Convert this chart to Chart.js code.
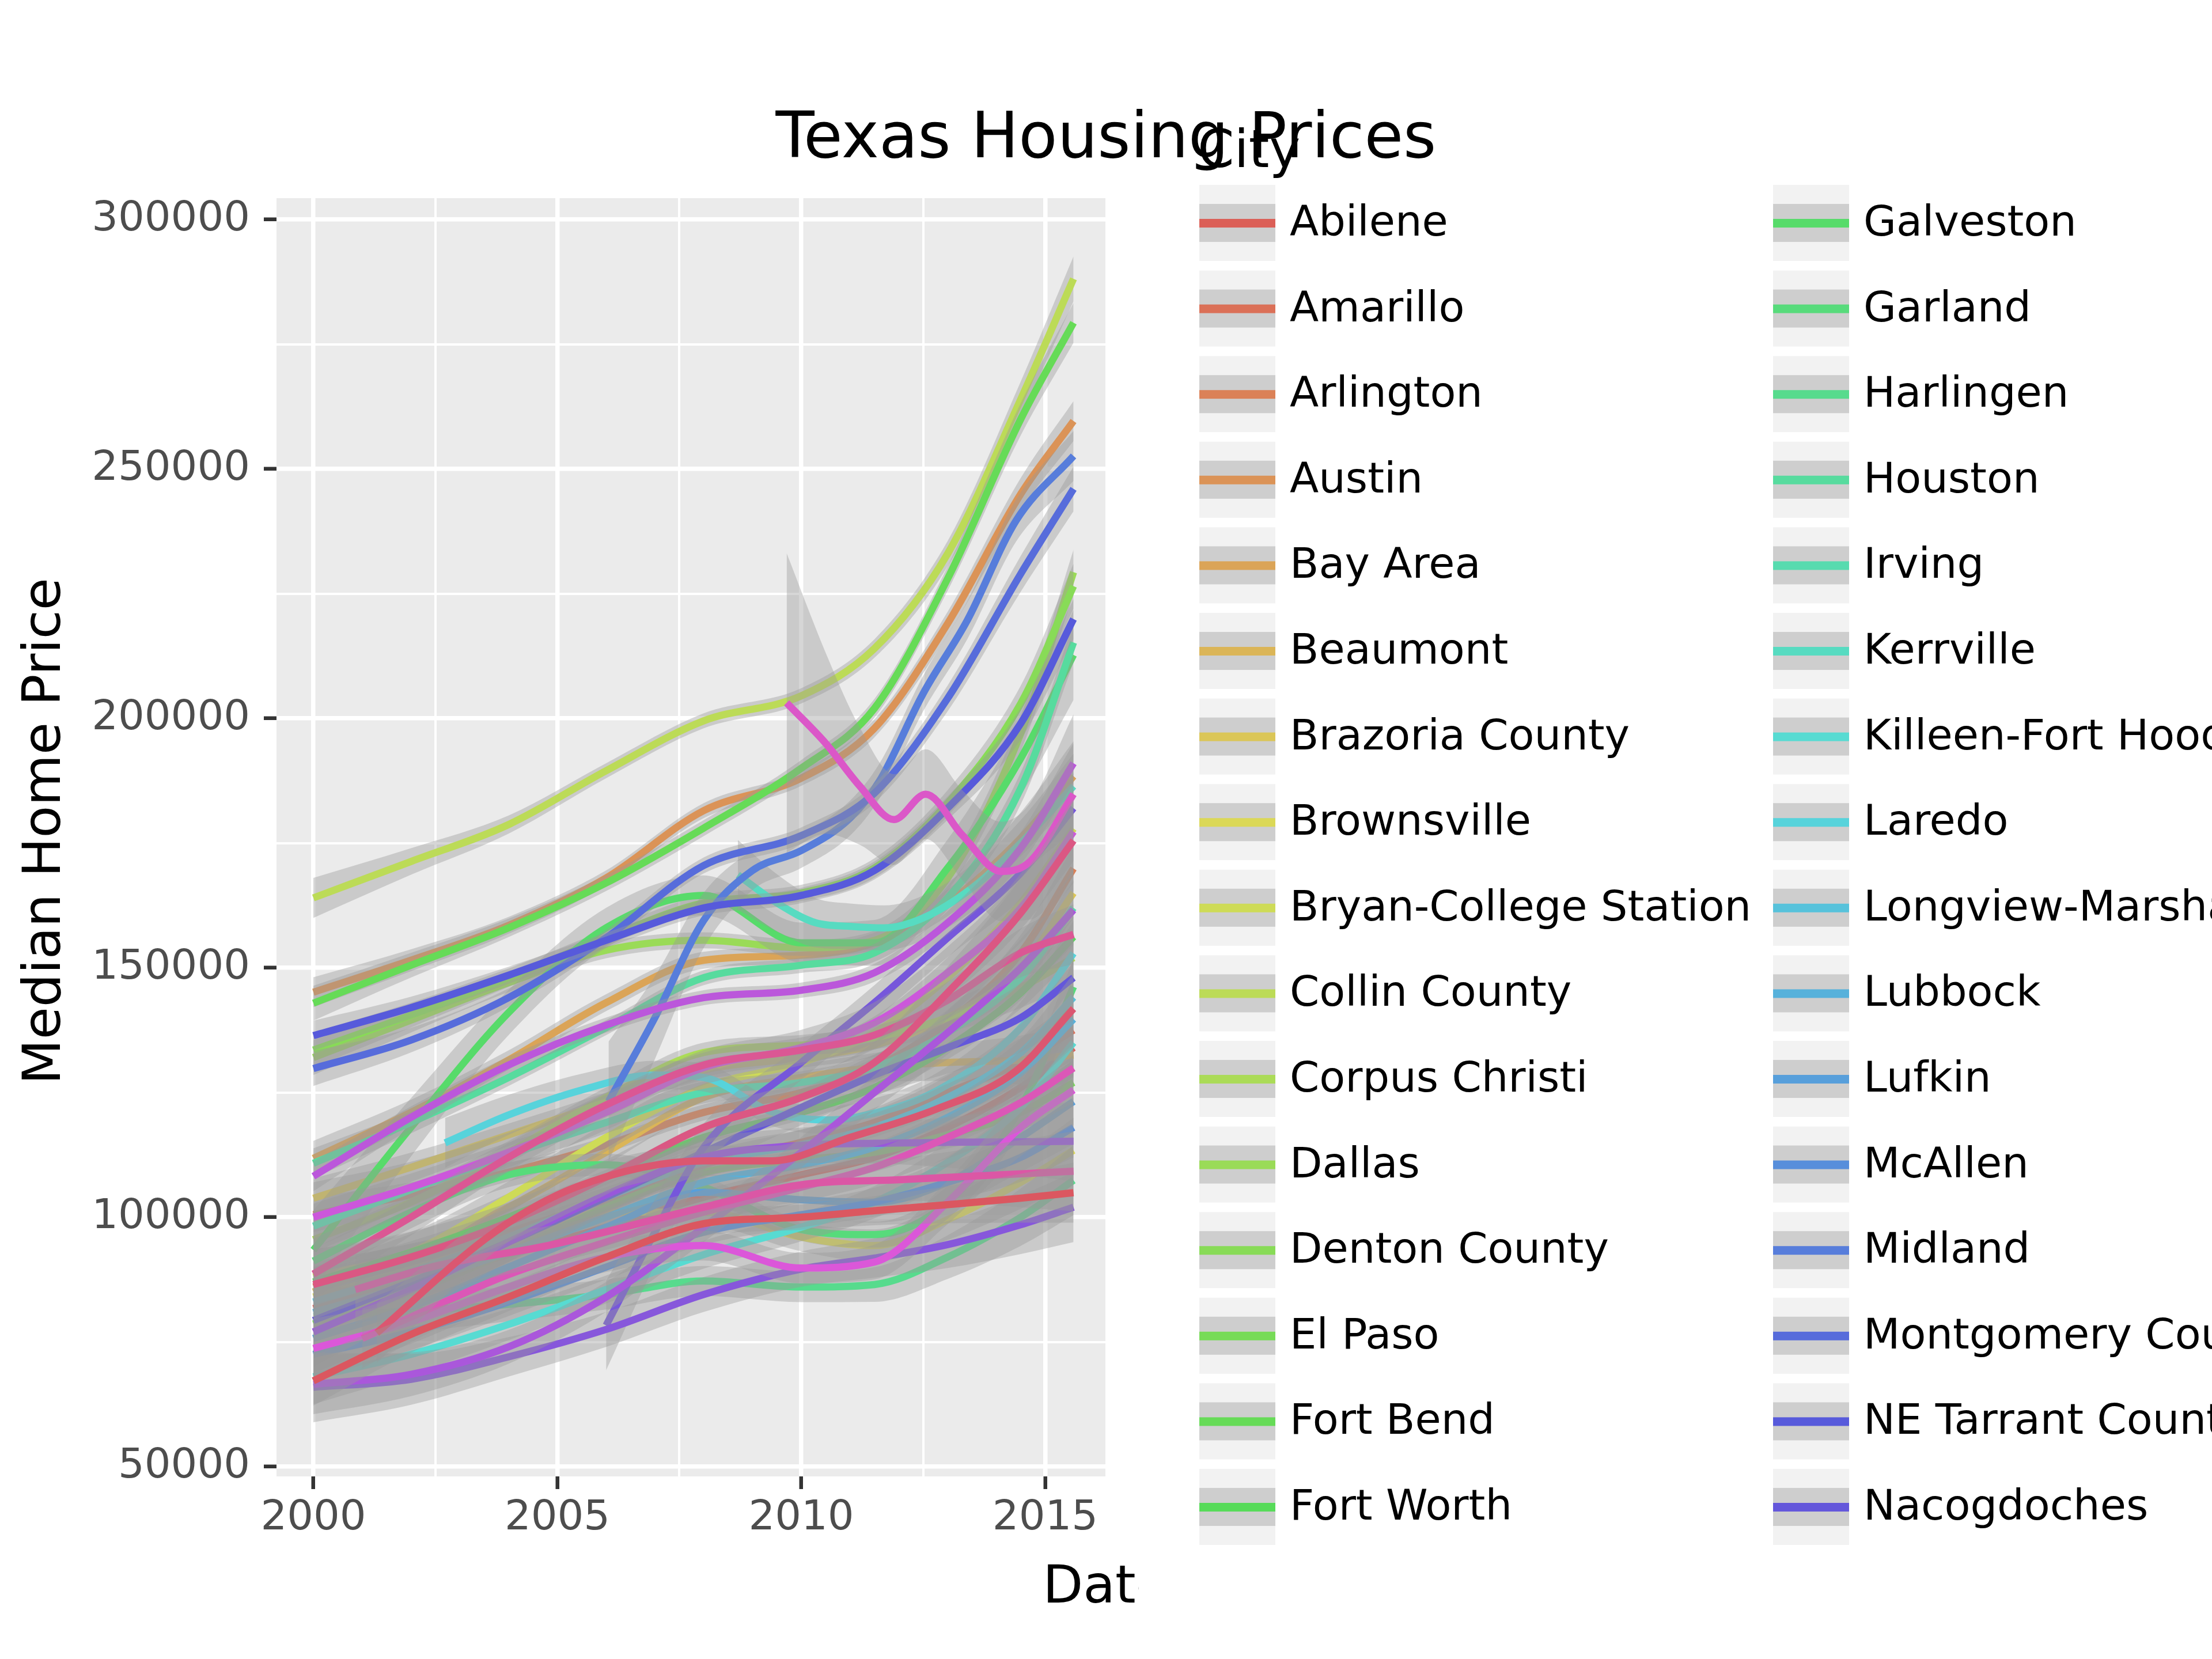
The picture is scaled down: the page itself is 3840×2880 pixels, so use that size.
<!DOCTYPE html>
<html><head><meta charset="utf-8">
<script src="https://cdn.jsdelivr.net/npm/chart.js@4.4.1/dist/chart.umd.min.js"></script>
<style>html,body{margin:0;padding:0;background:#fff;}</style>
</head><body>
<canvas id="c" width="3840" height="2880" style="width:3840px;height:2880px;display:block"></canvas>
<script>
// ---------------- DATA ----------------
const chartTitle = "Texas Housing Prices";
const xTitle = "Date";
const yTitle = "Median Home Price";
const legendTitle = "City";
const xTickValues = [2000, 2002.5, 2005, 2007.5, 2010, 2012.5, 2015];
const yTickValues = [50000, 75000, 100000, 125000, 150000, 175000, 200000, 225000, 250000, 275000, 300000];

const cities = ["Abilene","Amarillo","Arlington","Austin","Bay Area","Beaumont","Brazoria County","Brownsville","Bryan-College Station","Collin County","Corpus Christi","Dallas","Denton County","El Paso","Fort Bend","Fort Worth","Galveston","Garland","Harlingen","Houston","Irving","Kerrville","Killeen-Fort Hood","Laredo","Longview-Marshall","Lubbock","Lufkin","McAllen","Midland","Montgomery County","NE Tarrant County","Nacogdoches","Odessa","Paris","Port Arthur","San Angelo","San Antonio","San Marcos","Sherman-Denison","South Padre Island","Temple-Belton","Texarkana","Tyler","Victoria","Waco","Wichita Falls"];

const baseYears = [2000, 2002, 2004, 2006, 2008, 2010, 2011.5, 2013, 2014.5, 2015.58];

const kerrvilleYears = [2008.7, 2009.5, 2010.3, 2011, 2011.7, 2012.5, 2013.5, 2014.5, 2015.58];
const laredoYears = [2002.7, 2004, 2005.5, 2007, 2008, 2009.4, 2010.5, 2011.1, 2012.75, 2014.5, 2015.58];
const midlandYears = [2006.05, 2007, 2008, 2009, 2010, 2011, 2011.6, 2012.5, 2013.4, 2014.4, 2015.58];
const odessaYears = [2006, 2007, 2008, 2010, 2011.5, 2013, 2014.5, 2015.58];
const southPadreYears = [2009.7, 2010.5, 2011.2, 2011.9, 2012.55, 2013.3, 2014.1, 2014.7, 2015.58];
const templeYears = [2001, 2002, 2004, 2006, 2008, 2010, 2011.5, 2013, 2014.5, 2015.58];
const texarkanaYears = [2000.86, 2002.5, 2004.8, 2008, 2010, 2012, 2015.58];
const wacoYears = [2001.3, 2003.7, 2005.4, 2008, 2009.4, 2011, 2012.75, 2014.4, 2015.58];
const customYears = {
  "Kerrville": kerrvilleYears, "Laredo": laredoYears, "Midland": midlandYears,
  "Odessa": odessaYears, "South Padre Island": southPadreYears,
  "Temple-Belton": templeYears, "Texarkana": texarkanaYears, "Waco": wacoYears
};

// smoothed median price per city (one row per city, aligned with its years)
const prices = [
  [81700, 87000, 92500, 98000, 104000, 108500, 112000, 118000, 126000, 134000],
  [86000, 91000, 97000, 103500, 110500, 115000, 119000, 125000, 131000, 137500],
  [100500, 104500, 109000, 114500, 121000, 125000, 130000, 139000, 153000, 169900],
  [145100, 151500, 158500, 168000, 181500, 188000, 198000, 219000, 245000, 259600],
  [111800, 121000, 131500, 143000, 151500, 152500, 155000, 163000, 176000, 188400],
  [85000, 93000, 102000, 113000, 124000, 128000, 130000, 131000, 131500, 132500],
  [103800, 110000, 116500, 123000, 129500, 132000, 134500, 140000, 150000, 165000],
  [84000, 89500, 95500, 101000, 101000, 96000, 94300, 99500, 107000, 113400],
  [88000, 93000, 104000, 116000, 126000, 131000, 137000, 148000, 163000, 177900],
  [164000, 171300, 178700, 189500, 199500, 204500, 214000, 233000, 264000, 288100],
  [95500, 103000, 113000, 124000, 133000, 134500, 136000, 140000, 146000, 152000],
  [132000, 139500, 147000, 153500, 155500, 154000, 155500, 168000, 197000, 229300],
  [133500, 140500, 148000, 156000, 163000, 165000, 170000, 183000, 203000, 226500],
  [78600, 85000, 93000, 102000, 109000, 111500, 113000, 116500, 121000, 127000],
  [142900, 150500, 158000, 167000, 178000, 190000, 202000, 228000, 260000, 279300],
  [87000, 93000, 100000, 108000, 116000, 121000, 126000, 134000, 145000, 156200],
  [93400, 118000, 141000, 158000, 164500, 155000, 155000, 170000, 192000, 212700],
  [91200, 101000, 108500, 110500, 106000, 97500, 96500, 103000, 122000, 146200],
  [80100, 81200, 82500, 84500, 87200, 86000, 86500, 92000, 100000, 107400],
  [110800, 119000, 128000, 138000, 148000, 150500, 153000, 164000, 186000, 215200],
  [98200, 105500, 112500, 119000, 125000, 127000, 130000, 137000, 148000, 162000],
  [168600, 163000, 159000, 158300, 158000, 160000, 166000, 175000, 186400],
  [68000, 72500, 78500, 85500, 92500, 98000, 103000, 111000, 122000, 135000],
  [114900, 120500, 125500, 128500, 128000, 121100, 119500, 120000, 125200, 138000, 152900],
  [83000, 89000, 96000, 104000, 111000, 114500, 118000, 124000, 133000, 144100],
  [80900, 86500, 93000, 100000, 107000, 110500, 114000, 120000, 129000, 139700],
  [75700, 82000, 90000, 98000, 105000, 103500, 103000, 107000, 116000, 123200],
  [72500, 77000, 83000, 90000, 97000, 100500, 103000, 107000, 112000, 118000],
  [123200, 140000, 159500, 169500, 173500, 180000, 187400, 205000, 219600, 239600, 252600],
  [129800, 135500, 144000, 156000, 170500, 176500, 185000, 204000, 229000, 246000],
  [136400, 142000, 148500, 155500, 162000, 164500, 169500, 182000, 199000, 219900],
  [79300, 87000, 95000, 104000, 113000, 122000, 128500, 134000, 140000, 148000],
  [78300, 97000, 114000, 131000, 143000, 156000, 169000, 182000],
  [65900, 67500, 72000, 77500, 84500, 89600, 91800, 94500, 98500, 102000],
  [77000, 85500, 95000, 104500, 112000, 114400, 114800, 115000, 115100, 115200],
  [66500, 68500, 74000, 84000, 98000, 113000, 125000, 137000, 150000, 161600],
  [108200, 120000, 130500, 138500, 144000, 145500, 149000, 159000, 174000, 191000],
  [100000, 106000, 113000, 121000, 130000, 134000, 139000, 149000, 162000, 177300],
  [73700, 79000, 86000, 92000, 94300, 89800, 91000, 103000, 118000, 125500],
  [203100, 195000, 186400, 179700, 184800, 176600, 169300, 171400, 184800],
  [75700, 80000, 88500, 95000, 101000, 106000, 110000, 116000, 123000, 129900],
  [85500, 90200, 94300, 102000, 106500, 107500, 109200],
  [88600, 100000, 112000, 122500, 130500, 133500, 136500, 143500, 153000, 156700],
  [86500, 92000, 99000, 108000, 118000, 124000, 131000, 145000, 161000, 175500],
  [76800, 96900, 106100, 111300, 111300, 116000, 121600, 129300, 141800],
  [67200, 76500, 84000, 92000, 98700, 100000, 101300, 102500, 103800, 104900]
];

// half-width of the confidence band (dollars) at start, middle and end of each curve
const ciStart = [5000,5000,3500,3000,3500,5000,4000,5500,5500,4000,4000,3500,3500,3500,3500,3000,8000,4500,6000,3000,4500,7000,5500,5000,6000,4500,7000,5000,12000,3500,3000,7500,9000,7000,7000,6000,3000,7000,6000,30000,6000,7000,5000,7000,6000,5000];
const ciMid   = [2500,2500,1600,1500,1700,2500,2000,2800,2800,1500,2000,1600,1600,1700,1600,1500,4000,2200,3000,1500,2200,4500,2800,2800,3000,2200,3500,2500,3500,1600,1500,3500,3500,3500,3500,3000,1500,3500,3000,9000,3000,3500,2500,3500,3000,2500];
const ciEnd   = [6000,6000,4500,4000,4500,6000,5000,6500,6500,4500,5000,4500,4500,4500,4000,4000,9000,5500,7000,4000,5500,9000,6500,6500,7000,5500,8500,6000,5000,4500,4000,8500,7000,7000,8000,7000,4000,8500,7000,16000,7000,8000,6000,8500,7000,6000];

// ---------------- STYLE ----------------
const FONT = '"DejaVu Sans"';
const cityColor = i => `hsl(${((0.01 + i / cities.length) * 360) % 360}, 65%, 60%)`;
const bandColor = 'rgba(153,153,153,0.4)';

const datasets = [];
cities.forEach((name, c) => {
  const xs = customYears[name] || baseYears;
  const ys = prices[c];
  const x0 = xs[0], x1 = xs[xs.length - 1];
  const half = x => {
    const t = (x - x0) / (x1 - x0);
    return ciMid[c] + (ciStart[c] - ciMid[c]) * Math.pow(Math.max(0, 1 - 2.5 * t), 2)
                    + (ciEnd[c] - ciMid[c]) * Math.pow(Math.max(0, 2.5 * t - 1.5), 2);
  };
  const lo = xs.map((x, i) => ({x, y: ys[i] - half(x)}));
  const hi = xs.map((x, i) => ({x, y: ys[i] + half(x)}));
  const line = xs.map((x, i) => ({x, y: ys[i]}));
  const base = datasets.length;
  const common = {pointRadius: 0, pointHoverRadius: 0, cubicInterpolationMode: 'monotone', showLine: true};
  datasets.push(Object.assign({label: name + ' lo', data: lo, borderWidth: 0, borderColor: 'rgba(0,0,0,0)', fill: false, order: 1000 - 2 * c}, common));
  datasets.push(Object.assign({label: name + ' hi', data: hi, borderWidth: 0, borderColor: 'rgba(0,0,0,0)', backgroundColor: bandColor, fill: {target: base}, order: 1000 - 2 * c}, common));
  datasets.push(Object.assign({label: name, data: line, borderColor: cityColor(c), borderWidth: 12.5, fill: false, order: 999 - 2 * c, borderCapStyle: 'butt', borderJoinStyle: 'round'}, common));
});

const decorPlugin = {
  id: 'decor',
  beforeDraw(chart) {
    const ctx = chart.ctx, a = chart.chartArea;
    ctx.save();
    ctx.fillStyle = '#ffffff';
    ctx.fillRect(0, 0, chart.width, chart.height);
    ctx.fillStyle = '#EBEBEB';
    ctx.fillRect(a.left, a.top, a.right - a.left, a.bottom - a.top);
    ctx.restore();
  },
  afterDraw(chart) {
    const ctx = chart.ctx;
    ctx.save();
    ctx.fillStyle = '#000';
    ctx.textBaseline = 'alphabetic';
    // title
    ctx.font = `110px ${FONT}`;
    ctx.textAlign = 'center';
    ctx.fillText(chartTitle, 1920, 273);
    // x title (clipped by the legend box)
    ctx.save();
    ctx.beginPath(); ctx.rect(0, 0, 1977, chart.height); ctx.clip();
    ctx.font = `91px ${FONT}`;
    ctx.fillText(xTitle, 1919, 2782);
    ctx.restore();
    // y title
    ctx.save();
    ctx.translate(104, 1443);
    ctx.rotate(-Math.PI / 2);
    ctx.font = `91px ${FONT}`;
    ctx.textAlign = 'center';
    ctx.fillText(yTitle, 0, 0);
    ctx.restore();
    // legend
    ctx.textAlign = 'left';
    ctx.font = `91px ${FONT}`;
    ctx.fillText(legendTitle, 2079, 290);
    ctx.font = `73.5px ${FONT}`;
    const rows = 16;
    cities.forEach((name, i) => {
      const col = Math.floor(i / rows), r = i % rows;
      const x = 2082 + 996 * col, y = 321 + 148.6 * r;
      ctx.fillStyle = '#F2F2F2';
      ctx.fillRect(x, y, 132, 132);
      ctx.fillStyle = '#CECECE';
      ctx.fillRect(x, y + 33, 132, 66);
      ctx.fillStyle = cityColor(i);
      ctx.fillRect(x, y + 59, 132, 15);
      ctx.fillStyle = '#000';
      ctx.fillText(name, x + 157, y + 88);
    });
    ctx.restore();
  }
};

const isMajorX = v => Math.abs(v % 5) < 1e-9;
const isMajorY = v => v % 50000 === 0;

new Chart(document.getElementById('c'), {
  type: 'line',
  data: {datasets},
  options: {
    responsive: false,
    devicePixelRatio: 1,
    animation: false,
    events: [],
    parsing: false,
    layout: {padding: {left: 0, top: 344, right: 3840 - 1919, bottom: 2880 - 2563 - 160}},
    plugins: {legend: {display: false}, tooltip: {enabled: false}, title: {display: false}, filler: {propagate: false}},
    scales: {
      x: {
        type: 'linear', position: 'bottom',
        min: 1999.244, max: 2016.234,
        afterBuildTicks: s => { s.ticks = xTickValues.map(v => ({value: v})); },
        afterFit: s => { s.height = 160; },
        border: {display: false},
        grid: {
          color: '#FFFFFF',
          lineWidth: c => isMajorX(c.tick.value) ? 7.5 : 4,
          drawTicks: true, tickLength: 22,
          tickColor: c => isMajorX(c.tick.value) ? '#333333' : 'rgba(0,0,0,0)',
          tickWidth: 6.5
        },
        ticks: {
          autoSkip: false, maxRotation: 0, minRotation: 0, padding: 8,
          color: '#4D4D4D', font: {family: 'DejaVu Sans', size: 72},
          callback: v => isMajorX(v) ? String(v) : ''
        }
      },
      y: {
        type: 'linear', position: 'left',
        min: 48037, max: 304273,
        afterBuildTicks: s => { s.ticks = yTickValues.map(v => ({value: v})); },
        afterFit: s => { s.width = 480; },
        border: {display: false},
        grid: {
          color: '#FFFFFF',
          lineWidth: c => isMajorY(c.tick.value) ? 7.5 : 4,
          drawTicks: true, tickLength: 22,
          tickColor: c => isMajorY(c.tick.value) ? '#333333' : 'rgba(0,0,0,0)',
          tickWidth: 6.5
        },
        ticks: {
          autoSkip: false, padding: 24,
          color: '#4D4D4D', font: {family: 'DejaVu Sans', size: 72},
          callback: v => isMajorY(v) ? String(v) : ''
        }
      }
    }
  },
  plugins: [decorPlugin]
});
</script>
</body></html>
